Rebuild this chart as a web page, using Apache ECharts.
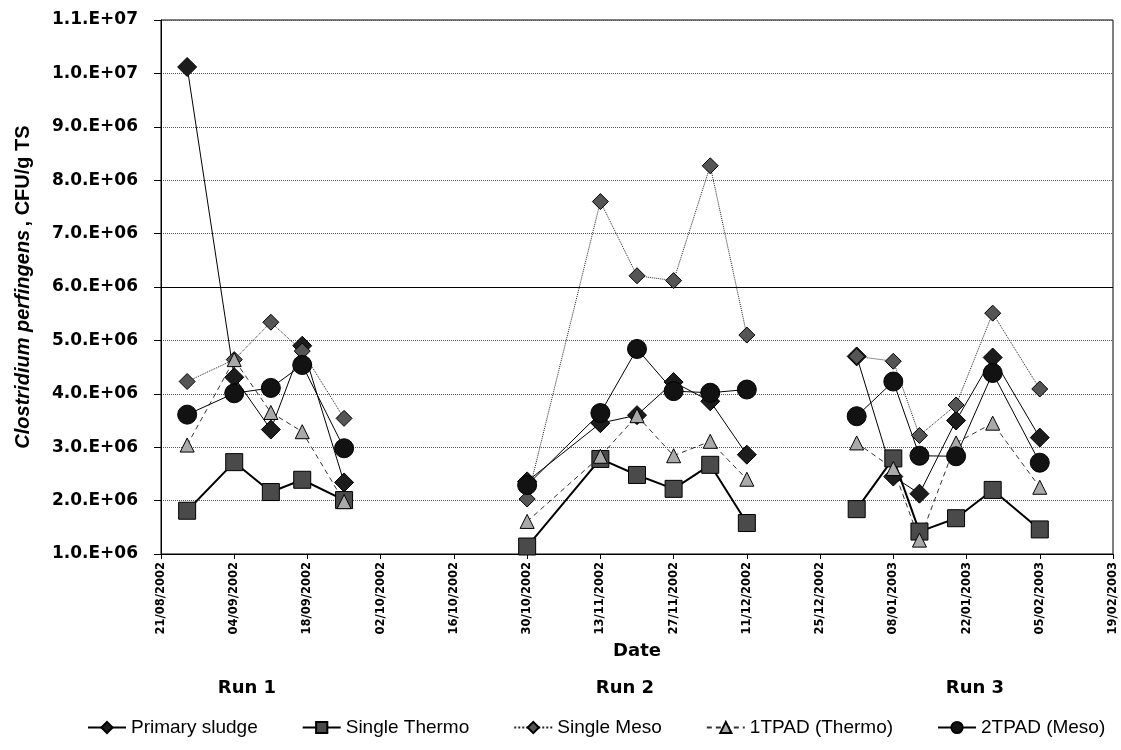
<!DOCTYPE html>
<html>
<head>
<meta charset="utf-8">
<script src="https://cdn.jsdelivr.net/npm/echarts@6/dist/echarts.min.js"></script>
<style>
  html, body { margin: 0; padding: 0; background: #fff; }
  #chart { width: 1121px; height: 750px; }
</style>
</head>
<body>
<div id="chart"></div>
<script>
// Sampling dates (dd/mm/yyyy) for the three digester runs
const sampleDates = [
  '26/08/2002', '04/09/2002', '11/09/2002', '17/09/2002', '25/09/2002',
  '30/10/2002', '13/11/2002', '20/11/2002', '27/11/2002', '04/12/2002', '11/12/2002',
  '01/01/2003', '08/01/2003', '13/01/2003', '20/01/2003', '27/01/2003', '05/02/2003'
];
// Run number of each sample (lines break between runs)
const sampleRun = [1, 1, 1, 1, 1, 2, 2, 2, 2, 2, 2, 3, 3, 3, 3, 3, 3];
const runLabels = ['Run 1', 'Run 2', 'Run 3'];

// Clostridium perfingens counts, CFU/g TS
const primarySludge = [10.12e6, 4.31e6, 3.33e6, 4.90e6, 2.34e6,
                       2.36e6, 3.45e6, 3.60e6, 4.22e6, 3.86e6, 2.86e6,
                       4.70e6, 2.45e6, 2.13e6, 3.50e6, 4.68e6, 3.18e6];
const singleThermo  = [1.81e6, 2.72e6, 2.16e6, 2.39e6, 2.01e6,
                       1.14e6, 2.78e6, 2.48e6, 2.22e6, 2.67e6, 1.58e6,
                       1.84e6, 2.79e6, 1.42e6, 1.67e6, 2.20e6, 1.46e6];
const singleMeso    = [4.23e6, 4.64e6, 5.34e6, 4.80e6, 3.54e6,
                       2.03e6, 7.60e6, 6.21e6, 6.12e6, 8.27e6, 5.10e6,
                       4.70e6, 4.61e6, 3.22e6, 3.79e6, 5.51e6, 4.09e6];
const tpadThermo    = [3.04e6, 4.64e6, 3.65e6, 3.29e6, 1.98e6,
                       1.61e6, 2.83e6, 3.59e6, 2.84e6, 3.11e6, 2.40e6,
                       3.08e6, 2.60e6, 1.26e6, 3.08e6, 3.45e6, 2.25e6];
const tpadMeso      = [3.61e6, 4.01e6, 4.11e6, 4.54e6, 2.98e6,
                       2.29e6, 3.64e6, 4.84e6, 4.05e6, 4.02e6, 4.08e6,
                       3.58e6, 4.23e6, 2.84e6, 2.83e6, 4.39e6, 2.71e6];

const seriesNames = ['Primary sludge', 'Single Thermo', 'Single Meso', '1TPAD (Thermo)', '2TPAD (Meso)'];

// Date axis range and tick step (days)
const axisStartDate = '21/08/2002';
const axisEndDate = '19/02/2003';
const dateTickDays = 14;

// Count axis range and tick step
const yMin = 1e6, yMax = 1.1e7, yStep = 1e6;

const DAY_MS = 86400000;
function parseDate(s) {
  const [d, m, y] = s.split('/').map(Number);
  return Date.UTC(y, m - 1, d);
}
const originMs = parseDate(axisStartDate);
function dayIndex(s) { return Math.round((parseDate(s) - originMs) / DAY_MS); }
function pad2(n) { return String(n).padStart(2, '0'); }
function dayToLabel(day) {
  const dt = new Date(originMs + day * DAY_MS);
  return pad2(dt.getUTCDate()) + '/' + pad2(dt.getUTCMonth() + 1) + '/' + dt.getUTCFullYear();
}
function sciLabel(v) {
  const e = Math.floor(Math.log10(v) + 1e-9);
  const m = v / Math.pow(10, e);
  return m.toFixed(1) + '.E+' + pad2(e);
}

// [day, value] pairs with an empty point between runs so each run is its own polyline
function buildSeriesData(values) {
  const out = [];
  for (let i = 0; i < values.length; i++) {
    if (i > 0 && sampleRun[i] !== sampleRun[i - 1]) {
      out.push([(dayIndex(sampleDates[i]) + dayIndex(sampleDates[i - 1])) / 2, null]);
    }
    out.push([dayIndex(sampleDates[i]), values[i]]);
  }
  return out;
}

const tickFont = 'DejaVu Sans';

const seriesStyles = [
  { symbol: 'diamond', size: 19, fill: '#1c1c1c', line: { color: '#000', width: 1, type: 'solid' } },
  { symbol: 'rect', size: 17, fill: '#4a4a4a', line: { color: '#000', width: 2, type: 'solid' } },
  { symbol: 'diamond', size: 16, fill: '#555555', line: { color: '#222', width: 1, type: 'dotted' } },
  { symbol: 'triangle', size: 14, fill: '#a9a9a9', line: { color: '#333', width: 1, type: [5, 4] } },
  { symbol: 'circle', size: 19, fill: '#121212', line: { color: '#000', width: 1, type: 'solid' } }
];
const seriesValues = [primarySludge, singleThermo, singleMeso, tpadThermo, tpadMeso];

const series = seriesNames.map((name, k) => {
  const st = seriesStyles[k];
  const s = {
    name: name,
    type: 'line',
    data: buildSeriesData(seriesValues[k]),
    connectNulls: false,
    symbol: st.symbol,
    symbolSize: st.size,
    showAllSymbol: true,
    itemStyle: { color: st.fill, borderColor: '#000', borderWidth: 1 },
    lineStyle: st.line,
    emphasis: { disabled: true }
  };
  if (k === 0) {
    // the 6.0E+06 gridline is drawn solid
    s.markLine = {
      silent: true,
      symbol: 'none',
      label: { show: false },
      lineStyle: { color: '#000', type: 'solid', width: 1 },
      data: [{ yAxis: 6e6 }],
      z: 1
    };
  }
  return s;
});

const chart = echarts.init(document.getElementById('chart'), null, { renderer: 'canvas' });
chart.setOption({
  animation: false,
  backgroundColor: '#fff',
  grid: {
    left: 161, top: 20, right: 8, bottom: 196,
    show: true, borderColor: '#000', borderWidth: 1,
    outerBoundsMode: 'none'
  },
  xAxis: {
    type: 'value',
    min: 0,
    max: dayIndex(axisEndDate),
    interval: dateTickDays,
    name: 'Date',
    nameLocation: 'middle',
    nameGap: 83,
    nameTextStyle: { fontFamily: tickFont, fontWeight: 'bold', fontSize: 18, color: '#000' },
    axisLine: { onZero: false, lineStyle: { color: '#000', width: 1 } },
    axisTick: { show: true, inside: false, length: 5, lineStyle: { color: '#000' } },
    axisLabel: {
      rotate: 90, margin: 8,
      fontFamily: tickFont, fontWeight: 'bold', fontSize: 11.5, color: '#000',
      formatter: v => dayToLabel(v),
      showMinLabel: true, showMaxLabel: true
    },
    splitLine: { show: false }
  },
  yAxis: {
    type: 'value',
    min: yMin, max: yMax, interval: yStep,
    name: '{it|Clostridium perfingens} {rg|, CFU/g TS}',
    nameLocation: 'middle',
    nameRotate: 90,
    nameGap: 128,
    nameTextStyle: {
      color: '#000',
      rich: {
        it: { fontFamily: 'Liberation Sans', fontStyle: 'italic', fontWeight: 'bold', fontSize: 20, color: '#000' },
        rg: { fontFamily: 'Liberation Sans', fontWeight: 'bold', fontSize: 20, color: '#000' }
      }
    },
    axisLine: { show: true, lineStyle: { color: '#000', width: 1 } },
    axisTick: { show: true, inside: false, length: 7, lineStyle: { color: '#000' } },
    axisLabel: {
      margin: 23,
      fontFamily: tickFont, fontWeight: 'bold', fontSize: 17, color: '#000',
      formatter: v => sciLabel(v)
    },
    splitLine: { show: true, lineStyle: { color: '#555', type: 'dotted', width: 1 } }
  },
  legend: {
    data: seriesNames,
    left: 82,
    top: 713,
    itemWidth: 38,
    itemHeight: 14,
    itemGap: 44,
    textStyle: { fontFamily: 'Liberation Sans', fontSize: 19, color: '#000' },
    selectedMode: false
  },
  graphic: [
    { type: 'text', x: 247, y: 688, style: { text: runLabels[0], font: 'bold 18px "DejaVu Sans"', fill: '#000', align: 'center', verticalAlign: 'middle' } },
    { type: 'text', x: 625, y: 688, style: { text: runLabels[1], font: 'bold 18px "DejaVu Sans"', fill: '#000', align: 'center', verticalAlign: 'middle' } },
    { type: 'text', x: 975, y: 688, style: { text: runLabels[2], font: 'bold 18px "DejaVu Sans"', fill: '#000', align: 'center', verticalAlign: 'middle' } }
  ],
  series: series
});
</script>
</body>
</html>
